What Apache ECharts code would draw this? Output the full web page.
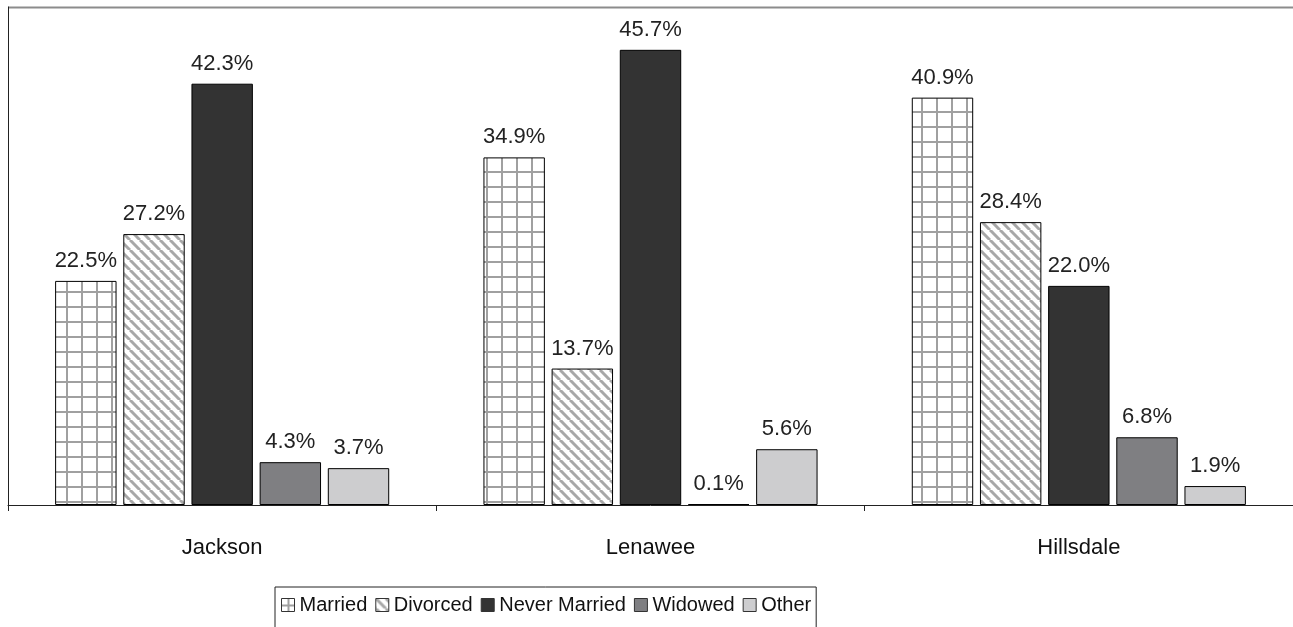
<!DOCTYPE html>
<html>
<head>
<meta charset="utf-8">
<script src="https://cdn.jsdelivr.net/npm/echarts@6/dist/echarts.min.js"></script>
<style>
  html, body { margin: 0; padding: 0; background: #fff; }
  #main { width: 1293px; height: 627px; }
</style>
</head>
<body>
<div id="main"></div>
<script>
// data
var counties = ['Jackson', 'Lenawee', 'Hillsdale'];
var seriesNames = ['Married', 'Divorced', 'Never Married', 'Widowed', 'Other'];
var married = [22.5, 34.9, 40.9];
var divorced = [27.2, 13.7, 28.4];
var neverMarried = [42.3, 45.7, 22.0];
var widowed = [4.3, 0.1, 6.8];
var other = [3.7, 5.6, 1.9];

// hatch patterns
function gridPattern() {
    var c = document.createElement('canvas');
    c.width = 15; c.height = 15;
    var ctx = c.getContext('2d');
    ctx.fillStyle = '#fff';
    ctx.fillRect(0, 0, 15, 15);
    ctx.fillStyle = '#a0a0a0';
    ctx.fillRect(6, 0, 2, 15);
    ctx.fillRect(0, 6, 15, 2);
    return c;
}
function stripePattern() {
    var s = 10;
    var c = document.createElement('canvas');
    c.width = s; c.height = s;
    var ctx = c.getContext('2d');
    ctx.fillStyle = '#fff';
    ctx.fillRect(0, 0, s, s);
    ctx.strokeStyle = '#a8a8a8';
    ctx.lineWidth = 3;
    // "\" direction
    for (var k = -1; k <= 1; k++) {
        ctx.beginPath();
        ctx.moveTo(k * s, 0);
        ctx.lineTo(k * s + s, s);
        ctx.stroke();
    }
    return c;
}

var fills = [
    { image: gridPattern(), repeat: 'repeat' },
    { image: stripePattern(), repeat: 'repeat' },
    '#333333',
    '#7f7f82',
    '#cdcdcf'
];
var values = [married, divorced, neverMarried, widowed, other];
var font = 'Liberation Sans, Arial, sans-serif';

var chart = echarts.init(document.getElementById('main'), null, { renderer: 'canvas' });

var series = [];
for (var i = 0; i < seriesNames.length; i++) {
    series.push({
        name: seriesNames[i],
        type: 'bar',
        data: values[i],
        barCategoryGap: '22%',
        barGap: '11%',
        itemStyle: {
            color: fills[i],
            borderColor: '#000',
            borderWidth: 1
        },
        label: {
            show: true,
            position: 'top',
            distance: 9,
            color: '#222',
            fontFamily: font,
            fontSize: 22,
            formatter: function (p) { return p.value.toFixed(1) + '%'; }
        },
        animation: false
    });
}

var option = {
    backgroundColor: '#fff',
    animation: false,
    grid: { left: 8, right: 0, top: 7, bottom: 122, show: false },
    legend: {
        data: seriesNames,
        left: 275,
        top: 587,
        padding: [8, 5, 14, 6],
        borderColor: '#222',
        borderWidth: 1,
        itemWidth: 13,
        itemHeight: 13,
        itemGap: 8,
        icon: 'rect',
        itemStyle: { borderColor: '#333', borderWidth: 1 },
        textStyle: {
            fontFamily: font,
            fontSize: 20,
            color: '#111'
        }
    },
    xAxis: {
        type: 'category',
        data: counties,
        axisLine: { show: true, lineStyle: { color: '#222', width: 1 } },
        axisTick: { show: true, length: 6, lineStyle: { color: '#222' } },
        axisLabel: {
            margin: 32,
            fontFamily: font,
            fontSize: 22,
            color: '#111'
        }
    },
    yAxis: {
        type: 'value',
        min: 0,
        max: 50,
        interval: 10,
        axisLine: { show: true, lineStyle: { color: '#222', width: 1 } },
        axisTick: { show: false },
        axisLabel: { show: false },
        splitLine: { show: false }
    },
    graphic: [{
        type: 'line',
        shape: { x1: 8, y1: 7.5, x2: 1293, y2: 7.5 },
        style: { stroke: '#8c8c8c', lineWidth: 2 }
    }],
    series: series
};

chart.setOption(option);
</script>
</body>
</html>
